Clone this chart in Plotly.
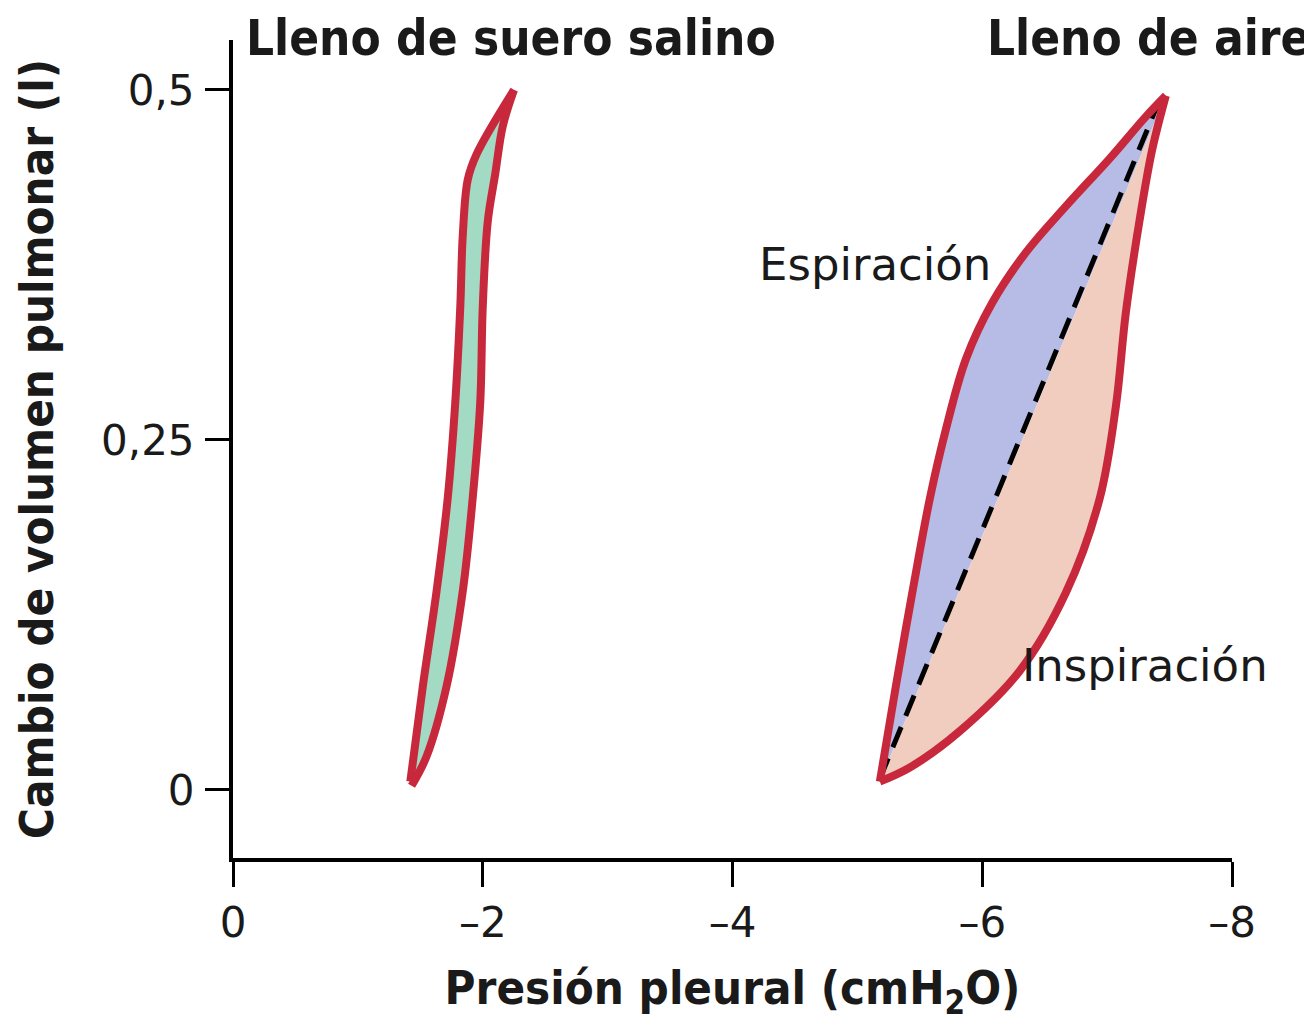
import plotly.graph_objects as go

# Lleno de suero salino: contorno (x = presión pleural cmH2O, y = volumen l)
saline_up_x = [-1.42, -1.52, -1.63, -1.72, -1.78, -1.82, -1.84, -1.88, -1.95, -2.25]
saline_up_y = [0.006, 0.074, 0.142, 0.209, 0.277, 0.345, 0.396, 0.436, 0.454, 0.500]
saline_down_x = [-2.25, -2.16, -2.10, -2.04, -2.00, -1.98, -1.92, -1.84, -1.71, -1.55, -1.43]
saline_down_y = [0.500, 0.474, 0.440, 0.406, 0.345, 0.277, 0.209, 0.142, 0.074, 0.024, 0.003]

# Lleno de aire: rama de espiración (arriba) e inspiración (abajo)
exp_x = [-5.18, -5.31, -5.44, -5.58, -5.71, -5.87, -6.08, -6.35, -6.67, -7.02, -7.31, -7.47]
exp_y = [0.006, 0.075, 0.141, 0.208, 0.258, 0.308, 0.348, 0.384, 0.417, 0.451, 0.481, 0.496]
insp_x = [-7.47, -7.36, -7.26, -7.15, -7.07, -6.94, -6.67, -6.30, -5.82, -5.42, -5.18]
insp_y = [0.496, 0.457, 0.407, 0.341, 0.274, 0.208, 0.141, 0.085, 0.042, 0.016, 0.006]

# línea discontinua (compliance)
dash_x = [-5.18, -7.42]
dash_y = [0.008, 0.493]

xtick_vals = [0, -2, -4, -6, -8]
xtick_text = ["0", "\u20132", "\u20134", "\u20136", "\u20138"]
ytick_vals = [0, 0.25, 0.5]
ytick_text = ["0", "0,25", "0,5"]

red = "#c8283c"
ink = "#1a1a1a"
font_reg = "DejaVu Sans, Liberation Sans, sans-serif"
font_bold = "DejaVu Sans Condensed, Liberation Sans, sans-serif"

fig = go.Figure()

# relleno verde (suero salino)
fig.add_trace(go.Scatter(
    x=saline_up_x + saline_down_x[1:], y=saline_up_y + saline_down_y[1:],
    mode="lines", fill="toself", fillcolor="#a3dac3",
    line=dict(color="rgba(0,0,0,0)", width=0, shape="spline", smoothing=1.0),
    hoverinfo="skip", showlegend=False))

# relleno azul (espiración) y salmón (inspiración)
fig.add_trace(go.Scatter(
    x=exp_x, y=exp_y, mode="lines", fill="toself", fillcolor="#b7bce6",
    line=dict(color="rgba(0,0,0,0)", width=0, shape="spline", smoothing=1.0),
    hoverinfo="skip", showlegend=False))
fig.add_trace(go.Scatter(
    x=insp_x, y=insp_y, mode="lines", fill="toself", fillcolor="#f1cdbf",
    line=dict(color="rgba(0,0,0,0)", width=0, shape="spline", smoothing=1.0),
    hoverinfo="skip", showlegend=False))

fig.add_trace(go.Scatter(
    x=dash_x, y=dash_y, mode="lines",
    line=dict(color="black", width=5, dash="22px,12px"),
    hoverinfo="skip", showlegend=False))

# contornos rojos
for xs, ys in [(saline_up_x, saline_up_y), (saline_down_x, saline_down_y),
               (exp_x, exp_y), (insp_x, insp_y)]:
    fig.add_trace(go.Scatter(
        x=xs, y=ys, mode="lines",
        line=dict(color=red, width=8, shape="spline", smoothing=1.0),
        hoverinfo="skip", showlegend=False))

# títulos de los paneles
fig.add_annotation(x=-2.23, y=1, xref="x", yref="paper", yshift=2,
                   text="<b>Lleno de suero salino</b>", showarrow=False,
                   xanchor="center", yanchor="middle",
                   font=dict(family=font_bold, size=49, color=ink))
fig.add_annotation(x=-6.02, y=1, xref="x", yref="paper", yshift=2,
                   text="<b>Lleno de aire</b>", showarrow=False,
                   xanchor="left", yanchor="middle",
                   font=dict(family=font_bold, size=49, color=ink))

fig.add_annotation(x=-5.14, y=0.375, xref="x", yref="y", text="Espiración",
                   showarrow=False, xanchor="center", yanchor="middle",
                   font=dict(family=font_reg, size=45, color=ink))
fig.add_annotation(x=-7.30, y=0.089, xref="x", yref="y", text="Inspiración",
                   showarrow=False, xanchor="center", yanchor="middle",
                   font=dict(family=font_reg, size=45, color=ink))

fig.update_layout(
    width=1312, height=1027,
    margin=dict(l=225, r=88, t=32, b=177),
    plot_bgcolor="white", paper_bgcolor="white",
    xaxis=dict(range=[0, -8], tickvals=xtick_vals, ticktext=xtick_text,
               showline=True, linecolor="black", linewidth=4,
               ticks="outside", ticklen=25, tickwidth=3, tickcolor="black",
               showgrid=False, zeroline=False, automargin=False,
               tickfont=dict(family=font_reg, size=42, color=ink),
               title=dict(text="<b>Presión pleural (cmH<sub>2</sub>O)</b>", standoff=26,
                          font=dict(family=font_bold, size=47, color=ink))),
    yaxis=dict(range=[-0.0486, 0.5357], tickvals=ytick_vals, ticktext=ytick_text,
               showline=True, linecolor="black", linewidth=4,
               ticks="outside", ticklen=24, tickwidth=3, tickcolor="black",
               ticklabelstandoff=2, showgrid=False, zeroline=False, automargin=False,
               tickfont=dict(family=font_reg, size=42, color=ink),
               title=dict(text="<b>Cambio de volumen pulmonar (l)</b>", standoff=34,
                          font=dict(family=font_bold, size=47, color=ink))),
)

fig.write_html("out.html")
